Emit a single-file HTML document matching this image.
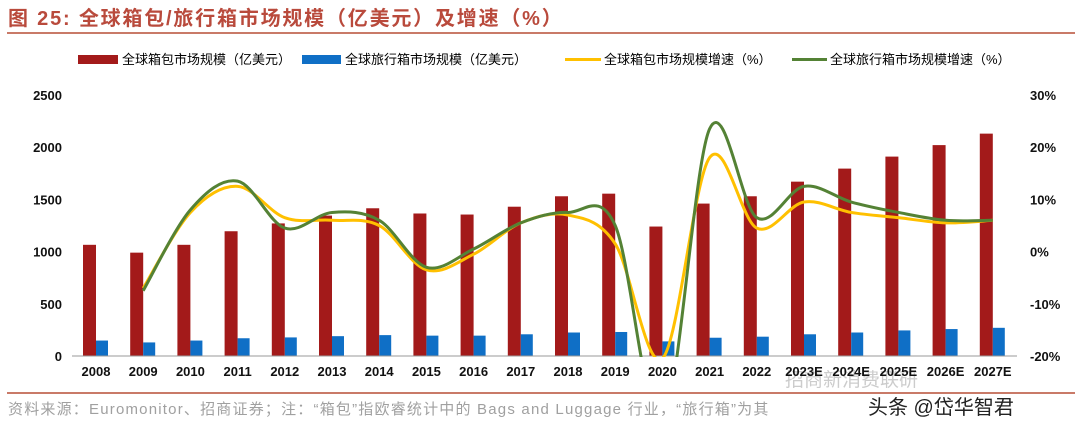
<!DOCTYPE html><html><head><meta charset="utf-8"><style>
body{margin:0;width:1080px;height:431px;background:#fff;overflow:hidden;font-family:"Liberation Sans","Noto Sans CJK SC",sans-serif}
</style></head><body>
<svg id="s" width="1080" height="431" xmlns="http://www.w3.org/2000/svg" font-family="Liberation Sans, Noto Sans CJK SC, sans-serif">
<text x="8" y="25" font-size="20" font-weight="bold" fill="#b94a3c" letter-spacing="1.8">图 25:  全球箱包/旅行箱市场规模（亿美元）及增速（%）</text>
<rect x="7" y="32" width="1068" height="2" fill="#c97a68"/>
<rect x="7" y="392" width="1068" height="2" fill="#c97a68"/>
<text x="8" y="414" font-size="15" fill="#a0a0a0" letter-spacing="1.2">资料来源：Euromonitor、招商证券；注：“箱包”指欧睿统计中的 Bags and Luggage 行业，“旅行箱”为其</text>
<text x="868" y="414" font-size="20" fill="#222">头条 @岱华智君</text>
<text x="785" y="386" font-size="19" fill="#ccc">招商新消费联研</text>
<g font-size="13">
<rect x="78" y="55" width="40" height="9" fill="#a31a1a"/><text x="122" y="64">全球箱包市场规模（亿美元）</text>
<rect x="302" y="55" width="39" height="9" fill="#0f6fc6"/><text x="345" y="64">全球旅行箱市场规模（亿美元）</text>
<rect x="565" y="58" width="36" height="3" fill="#ffc000"/><text x="604" y="64">全球箱包市场规模增速（%）</text>
<rect x="792" y="58" width="35" height="3" fill="#548235"/><text x="830" y="64">全球旅行箱市场规模增速（%）</text>
</g>
<g id="g"></g>
</svg>
<script>
var g=document.getElementById('g'),h='';
var y0=356,ppu=261/2500;
var bag=[1065,990,1065,1195,1270,1345,1415,1365,1355,1430,1530,1555,1240,1460,1530,1670,1795,1910,2020,2130];
var tr=[148,130,148,170,178,190,200,195,195,208,225,230,140,175,185,208,225,245,258,270];
var lab=['2008','2009','2010','2011','2012','2013','2014','2015','2016','2017','2018','2019','2020','2021','2022','2023E','2024E','2025E','2026E','2027E'];
var yl=[null,-7,7.5,12.5,6.5,6,5,-3.5,-0.5,5.5,7,1.5,-20.5,18,4.5,9.5,7.5,6.5,5.5,6];
var gl=[null,-7.5,8,13.5,4.5,7.5,6,-3,0.5,5.5,7.5,5,-33,23.5,6.5,12.5,9.5,7.5,6,6];
function cx(i){return 96+i*47.2}
function py(p){return 251.6-p*5.22}
for(var i=0;i<20;i++){var x=cx(i);
h+='<rect x="'+(x-13)+'" y="'+(y0-bag[i]*ppu)+'" width="13" height="'+bag[i]*ppu+'" fill="#a31a1a"/>';
h+='<rect x="'+x+'" y="'+(y0-tr[i]*ppu)+'" width="12" height="'+tr[i]*ppu+'" fill="#0f6fc6"/>';
h+='<text x="'+x+'" y="376" font-size="13" text-anchor="middle" font-weight="bold" fill="#111">'+lab[i]+'</text>';}
h+='<line x1="72" y1="356" x2="1017" y2="356" stroke="#999"/>';
for(var k=0;k<=5;k++){h+='<text x="62" y="'+(y0-k*500*ppu+5)+'" font-size="13" text-anchor="end" font-weight="bold" fill="#111">'+(k*500)+'</text>';
var p=30-k*10;h+='<text x="1030" y="'+(py(p)+5)+'" font-size="13" font-weight="bold" fill="#111">'+p+'%</text>';}
function path(a){var pts=[];for(var i=1;i<a.length;i++)pts.push([cx(i),py(a[i])]);
var d='M'+pts[0][0]+','+pts[0][1];
for(var i=0;i<pts.length-1;i++){var p0=pts[Math.max(i-1,0)],p1=pts[i],p2=pts[i+1],p3=pts[Math.min(i+2,pts.length-1)];
d+=' C'+(p1[0]+(p2[0]-p0[0])/6)+','+(p1[1]+(p2[1]-p0[1])/6)+' '+(p2[0]-(p3[0]-p1[0])/6)+','+(p2[1]-(p3[1]-p1[1])/6)+' '+p2[0]+','+p2[1];}
return d;}
h+='<defs><clipPath id="c"><rect x="60" y="80" width="970" height="277"/></clipPath></defs>';
h+='<g clip-path="url(#c)" fill="none" stroke-width="3"><path d="'+path(yl)+'" stroke="#ffc000"/><path d="'+path(gl)+'" stroke="#548235"/></g>';
g.innerHTML=h;
</script>
</body></html>
